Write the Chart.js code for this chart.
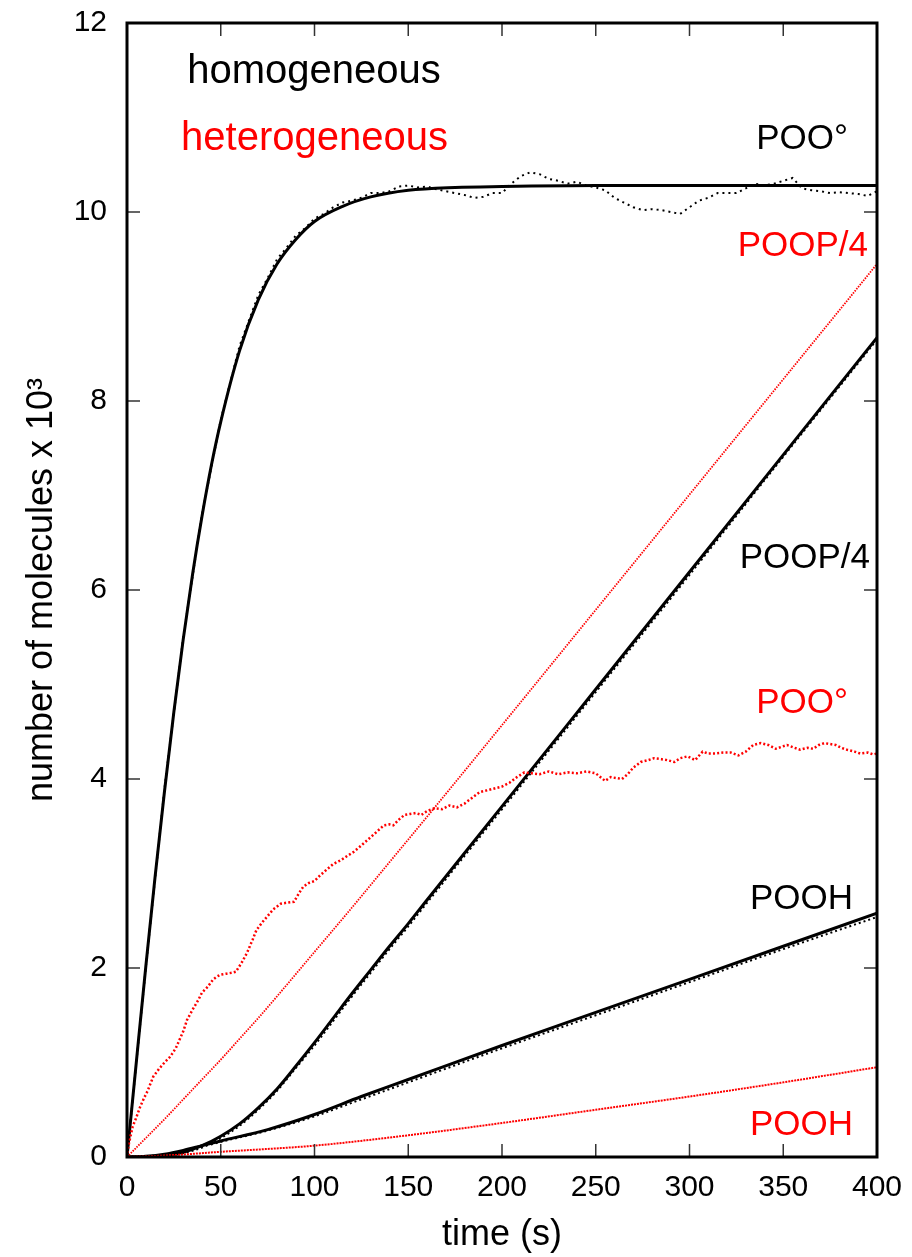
<!DOCTYPE html>
<html>
<head>
<meta charset="utf-8">
<script src="https://cdn.jsdelivr.net/npm/chart.js@4.4.1/dist/chart.umd.min.js"></script>
<style>
  html, body { margin: 0; padding: 0; background: #fff; }
  #wrap { width: 912px; height: 1257px; }
</style>
</head>
<body>
<div id="wrap"><canvas id="myChart" width="912" height="1257"></canvas></div>
<script>
// homogeneous model (black solid) and its simulation (black dots)
var hPooT = [0, 5, 10, 15, 20, 25, 30, 35, 40, 45, 50, 60, 70, 80, 90, 100, 115, 130, 150, 175, 200, 250, 300, 350, 400];
var hPoo = [0, 1.01, 2.01, 2.97, 3.87, 4.71, 5.48, 6.17, 6.78, 7.32, 7.78, 8.53, 9.07, 9.45, 9.71, 9.90, 10.06, 10.16, 10.23, 10.26, 10.27, 10.28, 10.28, 10.28, 10.28];

var hPooSimT = [0, 10, 20, 30, 40, 50, 60, 65, 70, 75, 80, 85, 90, 95, 100, 105, 110, 115, 120, 125, 130, 135, 140, 145, 150, 155, 160, 165, 170, 175, 180, 185, 190, 195, 200, 205, 210, 215, 220, 225, 230, 235, 240, 245, 250, 255, 260, 265, 270, 275, 280, 285, 290, 295, 300, 305, 310, 315, 320, 325, 330, 335, 340, 345, 350, 355, 360, 365, 370, 375, 380, 385, 390, 395, 400];
var hPooSim = [0, 2.0, 3.9, 5.5, 6.8, 7.8, 8.58, 8.85, 9.12, 9.3, 9.5, 9.62, 9.75, 9.83, 9.93, 9.98, 10.05, 10.1, 10.12, 10.15, 10.2, 10.2, 10.22, 10.27, 10.28, 10.26, 10.27, 10.24, 10.22, 10.2, 10.18, 10.15, 10.16, 10.2, 10.2, 10.3, 10.38, 10.42, 10.4, 10.35, 10.33, 10.3, 10.32, 10.28, 10.26, 10.23, 10.15, 10.1, 10.05, 10.02, 10.03, 10.02, 10.0, 9.98, 10.05, 10.12, 10.15, 10.2, 10.2, 10.2, 10.25, 10.3, 10.28, 10.3, 10.33, 10.36, 10.25, 10.23, 10.22, 10.2, 10.21, 10.2, 10.19, 10.17, 10.22];

var hPoopT = [0, 10, 20, 30, 40, 50, 60, 70, 80, 90, 100, 110, 120, 130, 140, 150, 160, 200, 250, 300, 350, 400];
var hPoop = [0, 0.002, 0.012, 0.05, 0.12, 0.22, 0.35, 0.52, 0.72, 0.96, 1.21, 1.47, 1.73, 1.98, 2.23, 2.47, 2.72, 3.71, 4.95, 6.19, 7.43, 8.67];
var hPoopSim = [0, 0.002, 0.01, 0.04, 0.1, 0.2, 0.33, 0.5, 0.7, 0.94, 1.18, 1.44, 1.7, 1.95, 2.2, 2.44, 2.69, 3.68, 4.92, 6.16, 7.41, 8.65];

var hPoohT = [0, 10, 20, 30, 40, 50, 75, 100, 125, 150, 200, 250, 300, 350, 400];
var hPooh = [0, 0.008, 0.03, 0.07, 0.12, 0.17, 0.29, 0.45, 0.64, 0.82, 1.18, 1.53, 1.88, 2.23, 2.58];
var hPoohSim = [0, 0.007, 0.027, 0.065, 0.11, 0.16, 0.28, 0.43, 0.61, 0.79, 1.15, 1.5, 1.85, 2.2, 2.54];

// heterogeneous simulation (red dots)
var rPooT = [0, 1, 3, 5, 7, 9, 11, 14, 17, 20, 23, 26, 28, 30, 32, 35, 38, 40, 43, 46, 48, 50, 53, 56, 58, 61, 64, 67, 69, 72, 75, 78, 82, 85, 89, 92, 94, 97, 100, 103, 107, 110, 114, 117, 121, 124, 128, 132, 137, 140, 142, 145, 148, 151, 154, 157, 160, 164, 168, 172, 176, 180, 184, 188, 192, 196, 200, 204, 208, 212, 216, 220, 225, 230, 235, 240, 245, 250, 255, 258, 261, 264, 267, 270, 274, 278, 281, 285, 288, 292, 295, 299, 303, 307, 310, 314, 318, 322, 326, 330, 334, 338, 342, 346, 349, 352, 356, 359, 363, 366, 369, 372, 375, 378, 381, 384, 388, 391, 395, 398, 400];
var rPoo = [0, 0.14, 0.32, 0.42, 0.53, 0.62, 0.7, 0.85, 0.93, 1.0, 1.06, 1.15, 1.24, 1.33, 1.45, 1.56, 1.66, 1.74, 1.8, 1.88, 1.91, 1.93, 1.94, 1.95, 1.96, 2.05, 2.16, 2.3, 2.4, 2.48, 2.55, 2.62, 2.68, 2.69, 2.7, 2.8, 2.86, 2.9, 2.92, 2.98, 3.05, 3.1, 3.14, 3.18, 3.23, 3.28, 3.35, 3.42, 3.51, 3.52, 3.51, 3.57, 3.62, 3.63, 3.64, 3.62, 3.66, 3.69, 3.68, 3.72, 3.7, 3.74, 3.8, 3.86, 3.88, 3.9, 3.92, 3.96, 4.02, 4.07, 4.06, 4.05, 4.08, 4.05, 4.07, 4.06, 4.08, 4.06, 3.98, 4.02, 4.01, 4.0, 4.05, 4.12, 4.18, 4.2, 4.22, 4.21, 4.2, 4.18, 4.22, 4.24, 4.2, 4.29, 4.27, 4.27, 4.28, 4.28, 4.25, 4.29, 4.36, 4.38, 4.36, 4.32, 4.34, 4.36, 4.33, 4.31, 4.33, 4.32, 4.36, 4.38, 4.37, 4.36, 4.33, 4.31, 4.29, 4.27, 4.28, 4.26, 4.27];

var rPoopT = [0, 10, 20, 30, 40, 50, 60, 70, 80, 100, 120, 140, 160, 200, 250, 300, 350, 400];
var rPoop = [0, 0.2, 0.4, 0.61, 0.82, 1.03, 1.25, 1.47, 1.7, 2.17, 2.64, 3.12, 3.6, 4.57, 5.79, 7.01, 8.23, 9.45];

var rPoohT = [0, 25, 50, 75, 100, 150, 200, 250, 300, 350, 400];
var rPooh = [0, 0.02, 0.055, 0.085, 0.12, 0.23, 0.36, 0.5, 0.64, 0.79, 0.95];

var xTicks = [0, 50, 100, 150, 200, 250, 300, 350, 400];
var yTicks = [0, 2, 4, 6, 8, 10, 12];

// text placed in data units
var noteText = ['homogeneous', 'heterogeneous', 'POO\u00b0', 'POOP/4', 'POOP/4', 'POO\u00b0', 'POOH', 'POOH'];
var noteColor = ['#000', '#ff0000', '#000', '#ff0000', '#000', '#ff0000', '#000', '#ff0000'];
var noteX = [99.7, 100, 384.5, 395.2, 396.3, 384.5, 387.2, 387.2];
var noteY = [11.36, 10.66, 10.67, 9.53, 6.23, 4.70, 2.62, 0.233];

function pts(t, v) {
    return t.map(function (x, i) { return { x: x, y: v[i] }; });
}

function noPad(s) {
    s.paddingTop = 0;
    s.paddingBottom = 0;
    s.paddingLeft = 0;
    s.paddingRight = 0;
}

var frameTicks = {
    id: 'frameTicks',
    afterDatasetsDraw: function (chart) {
        var ctx = chart.ctx, a = chart.chartArea;
        var xs = chart.scales.x, ys = chart.scales.y;
        ctx.save();
        ctx.strokeStyle = '#333';
        ctx.lineWidth = 1.5;
        ctx.beginPath();
        xTicks.forEach(function (v) {
            var px = xs.getPixelForValue(v);
            ctx.moveTo(px, a.bottom); ctx.lineTo(px, a.bottom - 13);
            ctx.moveTo(px, a.top); ctx.lineTo(px, a.top + 13);
        });
        yTicks.forEach(function (v) {
            var py = ys.getPixelForValue(v);
            ctx.moveTo(a.left, py); ctx.lineTo(a.left + 13, py);
            ctx.moveTo(a.right, py); ctx.lineTo(a.right - 13, py);
        });
        ctx.stroke();
        ctx.strokeStyle = '#000';
        ctx.lineWidth = 3;
        ctx.strokeRect(a.left, a.top, a.right - a.left, a.bottom - a.top);

        ctx.textBaseline = 'alphabetic';
        noteText.forEach(function (s, i) {
            ctx.fillStyle = noteColor[i];
            if (i < 2) {
                ctx.font = '40px "Liberation Sans"';
                ctx.textAlign = 'center';
            } else {
                ctx.font = '35px "Liberation Sans"';
                ctx.textAlign = 'right';
            }
            ctx.fillText(s, xs.getPixelForValue(noteX[i]), ys.getPixelForValue(noteY[i]));
        });
        ctx.restore();
    }
};

function initGraph() {
    var data = {
        datasets: [
            { data: pts(rPoohT, rPooh), borderColor: '#ff0000', borderWidth: 2, borderDash: [2, 1], cubicInterpolationMode: 'monotone' },
            { data: pts(rPoopT, rPoop), borderColor: '#ff0000', borderWidth: 1.8, borderDash: [1.5, 1.2], cubicInterpolationMode: 'monotone' },
            { data: pts(rPooT, rPoo), borderColor: '#ff0000', borderWidth: 2.5, borderDash: [2, 2.2], tension: 0 },
            { data: pts(hPooSimT, hPooSim), borderColor: '#000', borderWidth: 2, borderDash: [2, 4], tension: 0 },
            { data: pts(hPoopT, hPoopSim), borderColor: '#000', borderWidth: 2, borderDash: [2, 3], cubicInterpolationMode: 'monotone' },
            { data: pts(hPoohT, hPoohSim), borderColor: '#000', borderWidth: 2, borderDash: [2, 3], cubicInterpolationMode: 'monotone' },
            { data: pts(hPooT, hPoo), borderColor: '#000', borderWidth: 3, cubicInterpolationMode: 'monotone' },
            { data: pts(hPoopT, hPoop), borderColor: '#000', borderWidth: 3, cubicInterpolationMode: 'monotone' },
            { data: pts(hPoohT, hPooh), borderColor: '#000', borderWidth: 3, cubicInterpolationMode: 'monotone' }
        ]
    };
    var tickFont = { family: 'Liberation Sans', size: 30 };
    var titleFont = { family: 'Liberation Sans', size: 36 };
    var config = {
        type: 'line',
        data: data,
        options: {
            responsive: false,
            animation: false,
            layout: { padding: { top: 23, right: 35, left: 0, bottom: 0 } },
            elements: { point: { radius: 0 }, line: { fill: false } },
            plugins: { legend: { display: false }, tooltip: { enabled: false } },
            scales: {
                x: {
                    type: 'linear', min: 0, max: 400,
                    grid: { display: false, drawTicks: false },
                    border: { display: false },
                    ticks: { stepSize: 50, color: '#000', font: tickFont, padding: 13, maxRotation: 0 },
                    title: { display: true, text: 'time (s)', color: '#000', font: titleFont, padding: { top: 0, bottom: 0 } },
                    afterFit: function (s) { s.height = 100; noPad(s); }
                },
                y: {
                    type: 'linear', min: 0, max: 12,
                    grid: { display: false, drawTicks: false },
                    border: { display: false },
                    ticks: { stepSize: 2, color: '#000', font: tickFont, padding: 20 },
                    title: { display: true, text: 'number of molecules x 10\u00b3', color: '#000', font: titleFont, padding: { top: 20, bottom: 0 } },
                    afterFit: function (s) { s.width = 127; noPad(s); }
                }
            }
        },
        plugins: [frameTicks]
    };
    new Chart(document.getElementById('myChart'), config);
}
initGraph();
</script>
</body>
</html>
